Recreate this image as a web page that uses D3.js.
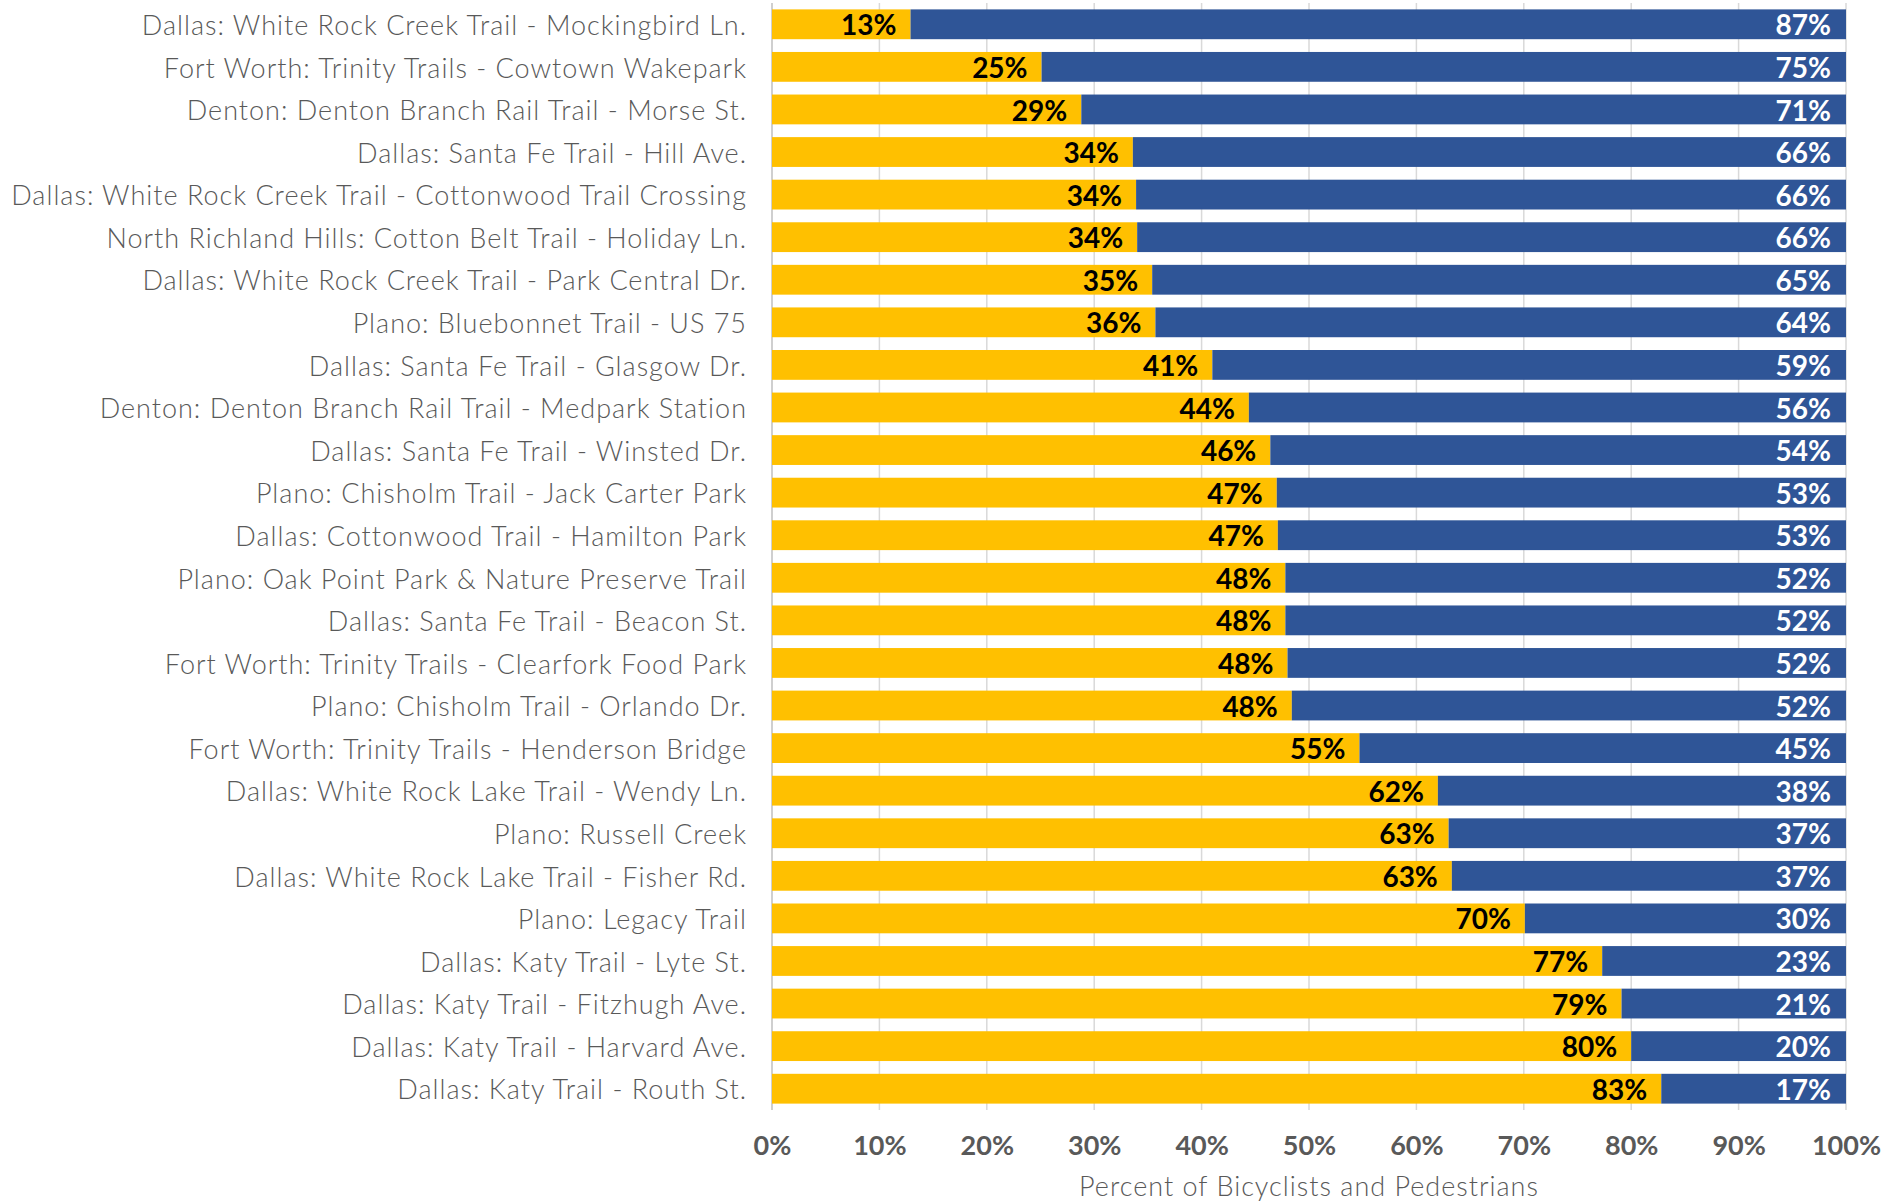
<!DOCTYPE html>
<html>
	<head>
		<meta charset="UTF-8">
		<script src='https://d3js.org/d3.v7.min.js'></script>
		<style>
			body { margin: 0; background: #fff; }
			.cat { font-family: Lato, sans-serif; font-size: 27px; font-weight: 300; letter-spacing: 1px; fill: #595959; }
			.val { font-family: Lato, sans-serif; font-size: 28px; font-weight: bold; }
			.tick text { font-family: Lato, sans-serif; font-size: 27px; font-weight: bold; fill: #595959; }
			.title { font-family: Lato, sans-serif; font-size: 27px; font-weight: 300; letter-spacing: 1px; fill: #595959; }
		</style>
	</head>
    <body>
        <svg width=1889 height=1204></svg>
        <script>

			// trail count locations, top to bottom
			var locations = [
				"Dallas: White Rock Creek Trail - Mockingbird Ln.",
				"Fort Worth: Trinity Trails - Cowtown Wakepark",
				"Denton: Denton Branch Rail Trail - Morse St.",
				"Dallas: Santa Fe Trail - Hill Ave.",
				"Dallas: White Rock Creek Trail - Cottonwood Trail Crossing",
				"North Richland Hills: Cotton Belt Trail - Holiday Ln.",
				"Dallas: White Rock Creek Trail - Park Central Dr.",
				"Plano: Bluebonnet Trail - US 75",
				"Dallas: Santa Fe Trail - Glasgow Dr.",
				"Denton: Denton Branch Rail Trail - Medpark Station",
				"Dallas: Santa Fe Trail - Winsted Dr.",
				"Plano: Chisholm Trail - Jack Carter Park",
				"Dallas: Cottonwood Trail - Hamilton Park",
				"Plano: Oak Point Park & Nature Preserve Trail",
				"Dallas: Santa Fe Trail - Beacon St.",
				"Fort Worth: Trinity Trails - Clearfork Food Park",
				"Plano: Chisholm Trail - Orlando Dr.",
				"Fort Worth: Trinity Trails - Henderson Bridge",
				"Dallas: White Rock Lake Trail - Wendy Ln.",
				"Plano: Russell Creek",
				"Dallas: White Rock Lake Trail - Fisher Rd.",
				"Plano: Legacy Trail",
				"Dallas: Katy Trail - Lyte St.",
				"Dallas: Katy Trail - Fitzhugh Ave.",
				"Dallas: Katy Trail - Harvard Ave.",
				"Dallas: Katy Trail - Routh St."
			];

			// share of bicyclists (yellow), percent
			var bicyclists = [12.9, 25.1, 28.8, 33.6, 33.9, 34.0, 35.4, 35.7, 41.0, 44.4, 46.4, 47.0, 47.1,
				47.8, 47.8, 48.0, 48.4, 54.7, 62.0, 63.0, 63.3, 70.1, 77.3, 79.1, 80.0, 82.8];

			// share of pedestrians (blue), percent
			var pedestrians = [87.1, 74.9, 71.2, 66.4, 66.1, 66.0, 64.6, 64.3, 59.0, 55.6, 53.6, 53.0, 52.9,
				52.2, 52.2, 52.0, 51.6, 45.3, 38.0, 37.0, 36.7, 29.9, 22.7, 20.9, 20.0, 17.2];

			var tickValues = [0, 10, 20, 30, 40, 50, 60, 70, 80, 90, 100];
			var axisTitle = "Percent of Bicyclists and Pedestrians";

			const plotLeft = 772;
			const plotRight = 1846;
			const plotTop = 3;
			const plotBottom = 1110;

			var x = d3.scaleLinear().domain([0, 100]).range([plotLeft, plotRight]);
			var y = d3.scaleBand().domain(locations).range([plotTop, plotBottom]).paddingInner(0.3).paddingOuter(0.15);

			var svg = d3.select('svg');

			// gridlines
			svg.append('g').selectAll('line')
				.data(tickValues)
				.enter().append('line')
				.attr('x1', d => x(d)).attr('x2', d => x(d))
				.attr('y1', plotTop).attr('y2', plotBottom)
				.attr('stroke', d => d == 0 ? '#bfbfbf' : '#d9d9d9')
				.attr('stroke-width', 1.5);

			var rows = locations.map(function(name, i) {
				return {name: name, bike: bicyclists[i], ped: pedestrians[i]};
			});

			var bars = svg.append('g');

			bars.selectAll('.bike')
				.data(rows)
				.enter().append('rect')
				.attr('x', x(0))
				.attr('y', d => y(d.name))
				.attr('width', d => x(d.bike) - x(0))
				.attr('height', y.bandwidth())
				.attr('fill', '#FFC000');

			bars.selectAll('.ped')
				.data(rows)
				.enter().append('rect')
				.attr('x', d => x(d.bike))
				.attr('y', d => y(d.name))
				.attr('width', d => x(d.bike + d.ped) - x(d.bike))
				.attr('height', y.bandwidth())
				.attr('fill', '#2F5597');

			// value labels
			bars.selectAll('.vb')
				.data(rows)
				.enter().append('text')
				.attr('class', 'val')
				.attr('x', d => x(d.bike) - 14)
				.attr('y', d => y(d.name) + y.bandwidth() / 2 + 1)
				.attr('dy', '0.36em')
				.attr('text-anchor', 'end')
				.attr('fill', '#000')
				.text(d => Math.round(d.bike) + '%');

			bars.selectAll('.vp')
				.data(rows)
				.enter().append('text')
				.attr('class', 'val')
				.attr('x', d => x(d.bike + d.ped) - 15)
				.attr('y', d => y(d.name) + y.bandwidth() / 2 + 1)
				.attr('dy', '0.36em')
				.attr('text-anchor', 'end')
				.attr('fill', '#fff')
				.text(d => Math.round(d.ped) + '%');

			// category labels
			svg.append('g').selectAll('text')
				.data(locations)
				.enter().append('text')
				.attr('class', 'cat')
				.attr('x', plotLeft - 25)
				.attr('y', d => y(d) + y.bandwidth() / 2 + 1)
				.attr('dy', '0.36em')
				.attr('text-anchor', 'end')
				.text(d => d);

			// x axis
			var xAxis = svg.append('g')
				.attr('transform', 'translate(0,' + plotBottom + ')')
				.call(d3.axisBottom(x).tickValues(tickValues).tickSize(0).tickPadding(26).tickFormat(d => d + '%'));
			xAxis.select('.domain').remove();

			svg.append('text')
				.attr('class', 'title')
				.attr('x', (plotLeft + plotRight) / 2)
				.attr('y', 1196)
				.attr('text-anchor', 'middle')
				.text(axisTitle);

        </script>
    </body>
</html>
